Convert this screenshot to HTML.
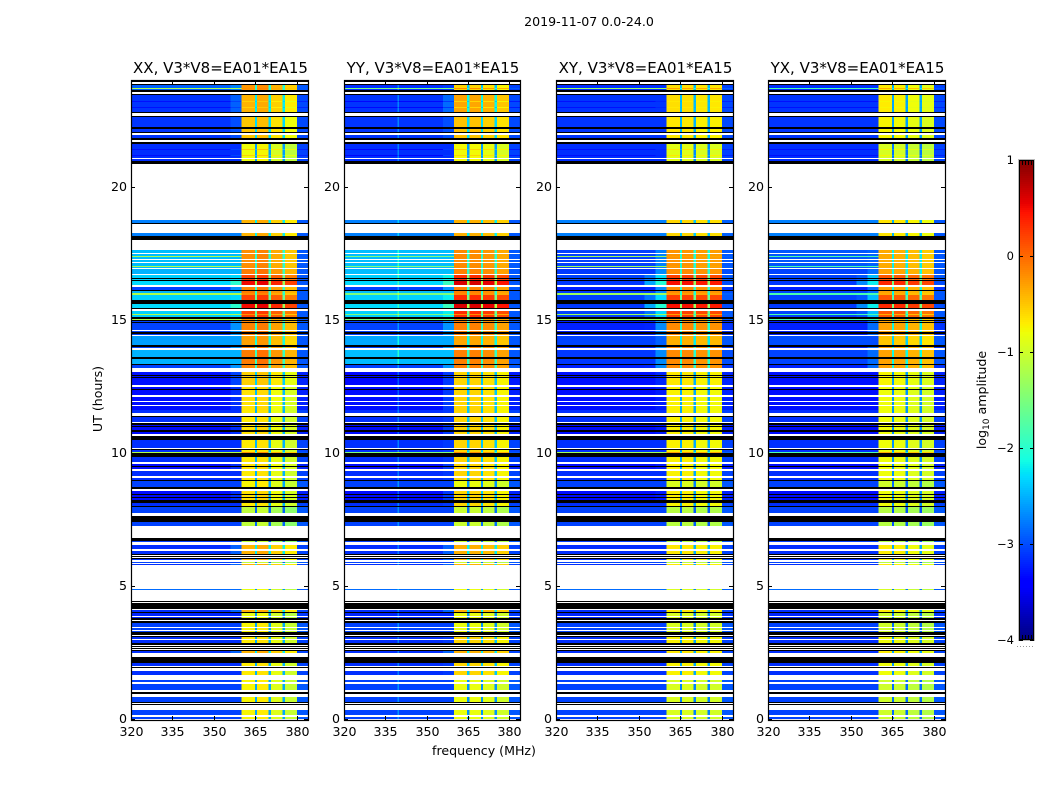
<!DOCTYPE html>
<html>
<head>
<meta charset="utf-8">
<title>2019-11-07 0.0-24.0</title>
<style>
html,body{margin:0;padding:0;background:#fff;}
svg{display:block;}
text{font-family:"DejaVu Sans","Liberation Sans",sans-serif;fill:#000;}
</style>
</head>
<body>
<svg id="chart" xmlns="http://www.w3.org/2000/svg" width="1050" height="800" viewBox="0 0 1050 800">
  <rect x="0" y="0" width="1050" height="800" fill="#fff"/>
  <text x="589" y="26" font-size="12.6" text-anchor="middle">2019-11-07 0.0-24.0</text>
  <text x="0" y="0" font-size="12.6" text-anchor="middle" transform="translate(102,399) rotate(-90)">UT (hours)</text>
  <text x="484" y="755" font-size="12.6" text-anchor="middle">frequency (MHz)</text>
  <text x="0" y="0" font-size="12.6" text-anchor="middle" transform="translate(986,400) rotate(-90)">log<tspan font-size="9" dy="3">10</tspan><tspan dy="-3"> amplitude</tspan></text>
  <g id="panels"></g>
  <g id="colorbar"></g>
</svg>
<script>
/* Polarisation panels */
const polNames = ["XX", "YY", "XY", "YX"];
const panelTitleSuffix = ", V3*V8=EA01*EA15";

/* Axis ticks */
const freqTicks = [320, 335, 350, 365, 380];
const utTicks = [0, 5, 10, 15, 20];
const colorTicks = [1, 0, -1, -2, -3, -4];

/* Frequency channels: edges in MHz and the role of each channel */
const channelEdges = [320, 339.5, 340, 352, 356, 360, 364.8, 365.6, 369.8, 370.6, 374.8, 375.6, 380, 384];
const channelRoles = ["L", "S", "L", "R1", "R2", "B0", "G", "B1", "G", "B2", "G", "B3", "E"];

/* Row classes: log10 amplitude, off-band (left) and in-band */
const classKeys = "abcdefghijlmnopqrstv";
const leftXX = [-2.9,-3.12,-3.12,-3.15,-2.75,-1.2,-2.45,-2.35,-2.3,-2.5,-3.05,-3.3,-3.32,-3.15,-3.05,-3.15,-2.85,-3.2,-2.6,-3.05];
const leftYY = [-3.15,-3.12,-3.12,-3.15,-2.75,-1.5,-2.45,-2.35,-2.3,-2.45,-3.05,-3.35,-3.32,-3.15,-3.05,-3.15,-2.85,-3.2,-2.55,-3.05];
const leftXY = [-3.15,-3.12,-3.12,-3.15,-2.75,-1.3,-3.05,-3.05,-3.1,-3.1,-3.22,-3.3,-3.32,-3.15,-3.05,-3.15,-2.85,-3.2,-3.05,-3.05];
const leftYX = [-3.15,-3.12,-3.12,-3.15,-2.75,-1.8,-2.95,-3.05,-3.1,-3.05,-3.22,-3.3,-3.32,-3.15,-3.05,-3.15,-2.85,-3.2,-3.0,-3.05];
const bandXX = [-0.25,-0.4,-0.5,-0.8,-0.4,-0.2,-0.2,0.2,0.5,-0.1,-0.15,-0.55,-0.65,-0.7,-1.1,-0.4,-0.85,-0.85,-0.3,-0.75];
const bandYY = [-0.6,-0.35,-0.5,-0.8,-0.4,-0.2,-0.2,0.3,0.6,-0.15,-0.15,-0.6,-0.6,-0.6,-1.05,-0.4,-0.85,-0.85,-0.35,-0.85];
const bandXY = [-0.65,-0.65,-0.7,-0.9,-0.6,-0.3,-0.25,0.2,0.45,-0.2,-0.2,-0.7,-0.75,-0.75,-1.15,-0.7,-0.95,-0.95,-0.4,-0.95];
const bandYX = [-0.75,-0.75,-0.8,-1,-0.7,-0.4,-0.4,0.05,0.3,-0.35,-0.35,-0.8,-0.85,-0.85,-1.2,-0.75,-1,-1.05,-0.55,-1.05];

/* Sub-band offsets per polarisation (four sub-bands between 360 and 380 MHz) */
const subbandXX = [0, 0.05, -0.15, -0.3];
const subbandYY = [0.02, 0.02, -0.05, -0.15];
const subbandXY = [0.02, 0.02, -0.03, -0.03];
const subbandYX = [0.05, 0.02, -0.05, -0.12];
const gapOffset = [-1.8, -1.8, -1.8, -1.8];
const riseNear = [-2.5, -2.5, -2.5, -2.5];
const riseFar = [-3.0, -3.0, -3.0, -3.0];
const spikeOffset = [0, 0.4, 0, 0];
const edgeCeiling = [-2.95, -2.95, -2.9, -2.95];

/* Time runs, top of plot downward: "<scan index><row class>"; k = flagged black, w = no data */
const scanCount = 639;
const timeRuns = [
"0k","1w","3k","4a","7f","8a","9k","11w","13k","14b","20m","21b","26m","27b","31k","32w","35k","36c","46k","48c","51k","52w","54c","57k","59w","61k","63d","68m","69d","74m","75d","77w","78d","80k","83w","139e","142k","143w","152e","155k","159w",
"169g","172w","173g","175f","176g","178w","179g","181w","182g","185f","186g","187w","188j","193w","194h","197k","198h","199k","200i","204w","206l","209k","210j","212f","214h","219k","223i","227k","228w","230h","233f","234h","236k","238f","239k","240l","241k","242l","249w","250l","251k","253l","254w","255t","264k","266l","267w","269j","276k","278j","283k","284l","287w","291m","294k","295m","296k","297m","304w","306n","308k","309n","314w","316n","320w","321n","324w","325n",
"329o","332w","335k","336o","341w","342k","344n","345k","346n","349k","351n","353w","355k","359o","367w","368k","369o","371f","372k","376o","381w","383n","385k","386n","388w","390o","395w","397o","399k","400v","406k","408w","410n","413k","414n","416k","417n","419k","422o","425k","426p","432w","435k","441p","445w","457k","460p","461w","464q","468w","470q","473k","474w","475k","476w","477k","478q","479w","481p","482w","483q","484w",
"508r","509w","520k","521w","522k","528w","529q","531k","532s","535w","536s","537k","539w","540k","542v","546w","547v","549w","550v","551k","554w","555k","556o","558w","559o","562k","564w","565k","566w","567k","568w","569k","570q","572w","576k","582o","585w","586k","587w","590o","594w","599v","601w","603v","609w","611k","613w","616v","621k","622w","623k","624w","629v","634w","636v","638w"
];

/* Axis geometry */
const panelLefts = [131, 344, 556, 768];
const panelWidths = [177, 176, 177, 177];
const plotTop = 81;
const plotBottom = 720;
const freqMin = 320, freqMax = 384, utMax = 24;
const cbLeft = 1019, cbWidth = 15, cbTop = 160, cbBottom = 640, cbMin = -4, cbMax = 1;
const cbMinorFractions = [0.2, 0.4, 0.6, 0.8];

const NS = "http://www.w3.org/2000/svg";
const xScale = (panel, f) => panelLefts[panel] + (f - freqMin) / (freqMax - freqMin) * panelWidths[panel];
const yScale = ut => plotBottom - ut / utMax * (plotBottom - plotTop);
const scanY = i => yScale(utMax * (1 - i / scanCount));
const cbScale = v => cbBottom - (v - cbMin) / (cbMax - cbMin) * (cbBottom - cbTop);

function interp(x, pts) {
  for (let i = 1; i < pts.length; i++) {
    if (x <= pts[i][0]) {
      const a = pts[i - 1], b = pts[i];
      return a[1] + (b[1] - a[1]) * (x - a[0]) / (b[0] - a[0]);
    }
  }
  return pts[pts.length - 1][1];
}
function jet(v) {
  const t = Math.max(0, Math.min(1, (v - cbMin) / (cbMax - cbMin)));
  const r = interp(t, [[0, 0], [0.35, 0], [0.66, 1], [0.89, 1], [1, 0.5]]);
  const g = interp(t, [[0, 0], [0.125, 0], [0.375, 1], [0.64, 1], [0.91, 0], [1, 0]]);
  const b = interp(t, [[0, 0.5], [0.11, 1], [0.34, 1], [0.65, 0], [1, 0]]);
  return "rgb(" + Math.round(r * 255) + "," + Math.round(g * 255) + "," + Math.round(b * 255) + ")";
}
function svgEl(tag, parent) {
  const el = document.createElementNS(NS, tag);
  parent.appendChild(el);
  return el;
}
function setAll(el, attrs) {
  for (const k in attrs) el.setAttribute(k, attrs[k]);
}

const leftByPol = [leftXX, leftYY, leftXY, leftYX];
const bandByPol = [bandXX, bandYY, bandXY, bandYX];
const subbandByPol = [subbandXX, subbandYY, subbandXY, subbandYX];

function channelLevel(p, cls, role) {
  const left = leftByPol[p][cls], band = bandByPol[p][cls];
  if (role === "L") return left;
  if (role === "S") return left + spikeOffset[p];
  if (role === "R1") return Math.max(left, band + riseFar[p]);
  if (role === "R2") return Math.max(left, band + riseNear[p]);
  if (role === "G") return band + gapOffset[p];
  if (role === "E") return Math.min(edgeCeiling[p], left + 0.1);
  return band + subbandByPol[p][Number(role[1])];
}

const panelsRoot = document.getElementById("panels");
polNames.forEach((pol, p) => {
  const g = svgEl("g", panelsRoot);
  
  

  const x0 = panelLefts[p];
  const panelWidth = panelWidths[p];

  timeRuns.forEach((run, r) => {
    const start = parseInt(run, 10);
    const key = run[run.length - 1];
    const next = r + 1 < timeRuns.length ? parseInt(timeRuns[r + 1], 10) : scanCount;
    const yTop = scanY(start), yEnd = scanY(next);
    if (key === "w") return;
    if (key === "k") {
      const band = svgEl("rect", g);
      
      
      setAll(band, {x: x0, y: yTop, width: panelWidth, height: yEnd - yTop, fill: "#000", "shape-rendering": "crispEdges"});
      return;
    }
    const cls = classKeys.indexOf(key);
    channelRoles.forEach((role, c) => {
      const xa = xScale(p, channelEdges[c]), xb = xScale(p, channelEdges[c + 1]);
      const cell = svgEl("rect", g);
      
      
      setAll(cell, {x: xa, y: yTop, width: xb - xa, height: yEnd - yTop, fill: jet(channelLevel(p, cls, role)), "shape-rendering": "crispEdges"});
    });
  });

  const frame = svgEl("rect", g);
  
  
  setAll(frame, {x: x0 + 0.5, y: plotTop - 0.5, width: panelWidth, height: plotBottom - plotTop + 1, fill: "none", stroke: "#000", "stroke-width": 1.2});

  const title = svgEl("text", g);
  
  
  setAll(title, {x: x0 + panelWidth / 2 + 1, y: 73, "font-size": 15, "text-anchor": "middle"});
  title.textContent = pol + panelTitleSuffix;

  freqTicks.forEach(f => {
    const x = Math.round(xScale(p, f)) + 0.5;
    const tb = svgEl("line", g);
    
    
    setAll(tb, {x1: x, x2: x, y1: plotBottom, y2: plotBottom - 4, stroke: "#000"});
    const tt = svgEl("line", g);
    
    
    setAll(tt, {x1: x, x2: x, y1: plotTop, y2: plotTop + 4, stroke: "#000"});
    const lab = svgEl("text", g);
    
    
    setAll(lab, {x: x, y: 736, "font-size": 12.6, "text-anchor": "middle"});
    lab.textContent = f;
  });

  utTicks.forEach(u => {
    const y = Math.round(yScale(u)) - 0.5;
    const tl = svgEl("line", g);
    
    
    setAll(tl, {x1: x0, x2: x0 + 4, y1: y, y2: y, stroke: "#000"});
    const tr = svgEl("line", g);
    
    
    setAll(tr, {x1: x0 + panelWidth, x2: x0 + panelWidth - 4, y1: y, y2: y, stroke: "#000"});
    const lab = svgEl("text", g);
    
    
    setAll(lab, {x: x0 - 4, y: y + 3.5, "font-size": 12.6, "text-anchor": "end"});
    lab.textContent = u;
  });
});

/* Colorbar */
const cb = document.getElementById("colorbar");
for (let py = cbTop; py < cbBottom; py += 2) {
  const s = svgEl("rect", cb);
  
  
  const v = cbMax - (py + 1 - cbTop) / (cbBottom - cbTop) * (cbMax - cbMin);
  setAll(s, {x: cbLeft, y: py, width: cbWidth, height: 2, fill: jet(v), "shape-rendering": "crispEdges"});
}
const cbFrame = svgEl("rect", cb);


setAll(cbFrame, {x: cbLeft + 0.5, y: cbTop + 0.5, width: cbWidth - 1, height: cbBottom - cbTop - 1, fill: "none", stroke: "#000"});
const cbOuter = svgEl("rect", cb);


setAll(cbOuter, {x: cbLeft - 0.5, y: cbTop - 0.5, width: cbWidth + 1, height: cbBottom - cbTop + 1, fill: "none", stroke: "#bbb"});
colorTicks.forEach(v => {
  const y = Math.round(cbScale(v)) + 0.5;
  const a = svgEl("line", cb);
  
  
  setAll(a, {x1: cbLeft, x2: cbLeft + 4, y1: y, y2: y, stroke: "#000"});
  const b = svgEl("line", cb);
  
  
  setAll(b, {x1: cbLeft + cbWidth, x2: cbLeft + cbWidth - 4, y1: y, y2: y, stroke: "#000"});
  const lab = svgEl("text", cb);
  
  
  setAll(lab, {x: cbLeft - 5, y: Math.round(cbScale(v)) + 4, "font-size": 11.5, "text-anchor": "end"});
  lab.textContent = (v < 0 ? "\u2212" + Math.abs(v) : String(v));
});
cbMinorFractions.forEach(fr => {
  const x = Math.round(cbLeft + fr * cbWidth) + 0.5;
  const top = svgEl("line", cb);
  
  
  setAll(top, {x1: x, x2: x, y1: cbTop, y2: cbTop + 5, stroke: "#000"});
  const bottom = svgEl("line", cb);
  
  
  setAll(bottom, {x1: x, x2: x, y1: cbBottom, y2: cbBottom - 5, stroke: "#000"});
});
const cbDots = svgEl("line", cb);


setAll(cbDots, {x1: cbLeft - 2, x2: cbLeft + cbWidth, y1: 646.5, y2: 646.5, stroke: "#999", "stroke-dasharray": "1 2"});
</script>
</body>
</html>
